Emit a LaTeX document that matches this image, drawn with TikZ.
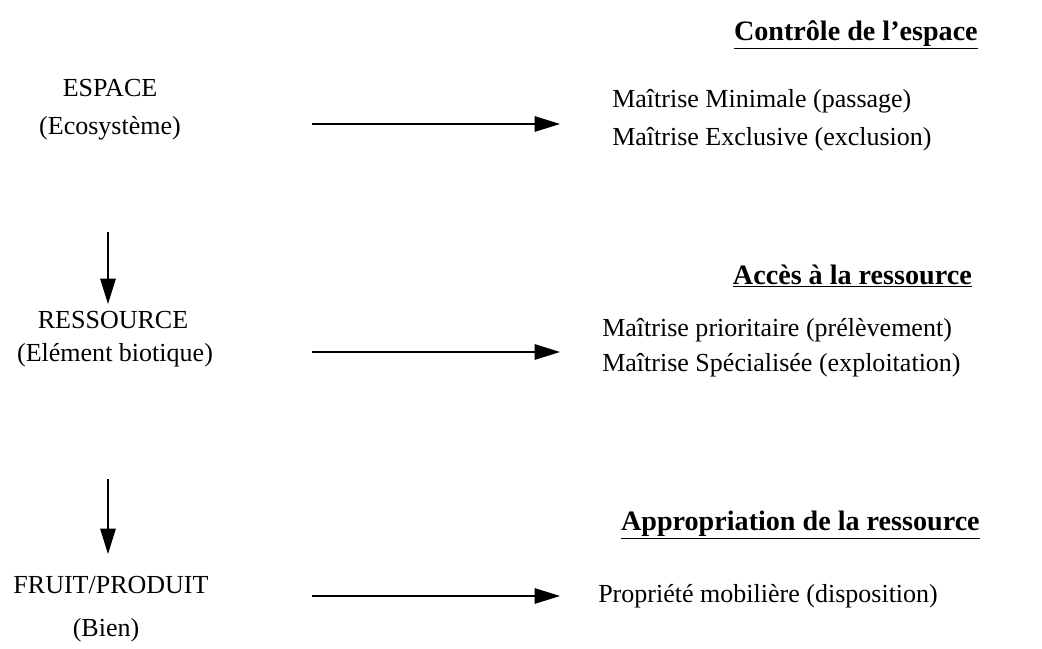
\documentclass[tikz,border=0pt]{standalone}
\usepackage{fontspec}
\setmainfont{Liberation Serif}
\usetikzlibrary{arrows.meta}

\tikzset{
  fleche/.style={-{Triangle[length=18pt,width=11pt]}, line width=0.9pt},
  texte/.style={font=\fontsize{18.5}{22}\selectfont, inner sep=0pt},
  titre/.style={font=\fontsize{20}{23}\selectfont\bfseries, inner sep=0pt, anchor=east}
}

\begin{document}
\begin{tikzpicture}[x=0.025cm, y=-0.025cm]

\useasboundingbox (0,0) rectangle (1042,649);

\def\xg{108}
\def\xa{312}
\def\xb{560}

% colonne de gauche
\node[texte] (espace) at (110,88) {ESPACE};
\node[texte] (eco) at (110,128) {(Ecosystème)};
\node[texte] (ress) at (113,320) {RESSOURCE};
\node[texte] (bio) at (115,355) {(Elément biotique)};
\node[texte] (fruit) at (111,585) {FRUIT/PRODUIT};
\node[texte] (bien) at (106,630) {(Bien)};

\coordinate (h1) at (\xg,232);
\coordinate (b1) at (\xg,304);
\coordinate (h2) at (\xg,479);
\coordinate (b2) at (\xg,554);
\draw[fleche] (h1) -- (b1);
\draw[fleche] (h2) -- (b2);

% fleches horizontales
\coordinate (g1) at (\xa,124);
\coordinate (d1) at (\xb,124);
\coordinate (g2) at (\xa,352);
\coordinate (d2) at (\xb,352);
\coordinate (g3) at (\xa,596);
\coordinate (d3) at (\xb,596);
\draw[fleche] (g1) -- (d1);
\draw[fleche] (g2) -- (d2);
\draw[fleche] (g3) -- (d3);

% colonne de droite
\node[titre] (t1) at (978,35) {\underline{Contrôle de l’espace}};
\node[texte, anchor=west] (m1) at (612,101) {Maîtrise Minimale (passage)};
\node[texte, anchor=west] (m2) at (612,139) {Maîtrise Exclusive (exclusion)};

\node[titre] (t2) at (972,276) {\underline{Accès à la ressource}};
\node[texte, anchor=west] (m3) at (602,330) {Maîtrise prioritaire (prélèvement)};
\node[texte, anchor=west] (m4) at (602,365) {Maîtrise Spécialisée (exploitation)};

\node[titre] (t3) at (980,525) {\underline{Appropriation de la ressource}};
\node[texte, anchor=west] (m5) at (598,596) {Propriété mobilière (disposition)};

\end{tikzpicture}
\end{document}
